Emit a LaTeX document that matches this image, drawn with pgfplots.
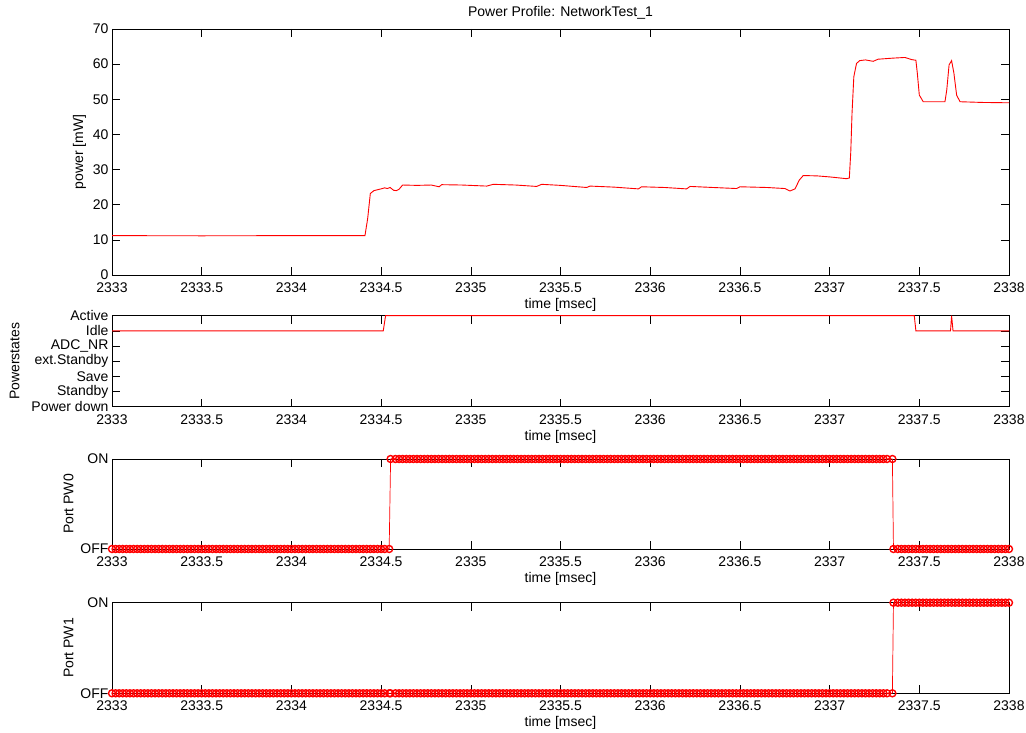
\documentclass[border=0pt]{standalone}
\usepackage{pgfplots}
\pgfplotsset{compat=1.18}
\usepackage{pgfplotstable}
\usepackage{fontspec}
\setmainfont{Liberation Sans}

\pgfplotstableread{
t p
2333.00 11.2
2333.50 11.15
2334.00 11.2
2334.41 11.2
2334.425 16
2334.44 23.2
2334.46 24.0
2334.475 24.2
2334.50 24.5
2334.52 24.8
2334.535 24.6
2334.55 24.9
2334.57 24.1
2334.585 24.0
2334.60 24.4
2334.62 25.6
2334.70 25.5
2334.78 25.6
2334.823 25.1
2334.838 25.7
2334.95 25.6
2335.089 25.3
2335.125 25.8
2335.25 25.6
2335.367 25.2
2335.395 25.8
2335.50 25.5
2335.646 24.9
2335.664 25.3
2335.80 25.0
2335.934 24.5
2335.952 25.1
2336.08 24.9
2336.203 24.5
2336.222 25.2
2336.35 24.9
2336.482 24.6
2336.50 25.1
2336.65 24.9
2336.751 24.6
2336.779 23.9
2336.807 24.5
2336.831 27.0
2336.853 28.3
2336.93 28.2
2337.002 27.9
2337.095 27.4
2337.11 27.6
2337.118 35
2337.125 46
2337.135 56.4
2337.15 60.2
2337.168 61.0
2337.20 61.2
2337.243 60.8
2337.27 61.4
2337.35 61.7
2337.42 61.9
2337.457 61.3
2337.481 61.1
2337.489 57.4
2337.50 51.2
2337.522 49.3
2337.60 49.3
2337.643 49.3
2337.653 52.6
2337.666 59.8
2337.68 61.0
2337.693 57.4
2337.708 51.2
2337.727 49.3
2337.85 49.1
2338.00 49.0
}\powerdata

\pgfplotstableread{
t s
2333.000 5
2334.512 5
2334.525 6
2337.472 6
2337.481 5
2337.674 5
2337.680 6
2337.688 5
2338.000 5
}\statedata

\pgfplotstableread[row sep=\\]{
t a b\\
2333.00 0 0\\ 2333.02 0 0\\ 2333.04 0 0\\ 2333.06 0 0\\ 2333.08 0 0\\ 2333.10 0 0\\ 2333.12 0 0\\ 2333.14 0 0\\ 2333.16 0 0\\ 2333.18 0 0\\
2333.20 0 0\\ 2333.22 0 0\\ 2333.24 0 0\\ 2333.26 0 0\\ 2333.28 0 0\\ 2333.30 0 0\\ 2333.32 0 0\\ 2333.34 0 0\\ 2333.36 0 0\\ 2333.38 0 0\\
2333.40 0 0\\ 2333.42 0 0\\ 2333.44 0 0\\ 2333.46 0 0\\ 2333.48 0 0\\ 2333.50 0 0\\ 2333.52 0 0\\ 2333.54 0 0\\ 2333.56 0 0\\ 2333.58 0 0\\
2333.60 0 0\\ 2333.62 0 0\\ 2333.64 0 0\\ 2333.66 0 0\\ 2333.68 0 0\\ 2333.70 0 0\\ 2333.72 0 0\\ 2333.74 0 0\\ 2333.76 0 0\\ 2333.78 0 0\\
2333.80 0 0\\ 2333.82 0 0\\ 2333.84 0 0\\ 2333.86 0 0\\ 2333.88 0 0\\ 2333.90 0 0\\ 2333.92 0 0\\ 2333.94 0 0\\ 2333.96 0 0\\ 2333.98 0 0\\
2334.00 0 0\\ 2334.02 0 0\\ 2334.04 0 0\\ 2334.06 0 0\\ 2334.08 0 0\\ 2334.10 0 0\\ 2334.12 0 0\\ 2334.14 0 0\\ 2334.16 0 0\\ 2334.18 0 0\\
2334.20 0 0\\ 2334.22 0 0\\ 2334.24 0 0\\ 2334.26 0 0\\ 2334.28 0 0\\ 2334.30 0 0\\ 2334.32 0 0\\ 2334.34 0 0\\ 2334.36 0 0\\ 2334.38 0 0\\
2334.40 0 0\\ 2334.42 0 0\\ 2334.44 0 0\\ 2334.46 0 0\\ 2334.48 0 0\\ 2334.50 0 0\\ 2334.52 0 0\\ 2334.545 0 0\\ 2334.553 1 0\\ 2334.58 1 0\\
2334.60 1 0\\ 2334.62 1 0\\ 2334.64 1 0\\ 2334.66 1 0\\ 2334.68 1 0\\ 2334.70 1 0\\ 2334.72 1 0\\ 2334.74 1 0\\ 2334.76 1 0\\ 2334.78 1 0\\
2334.80 1 0\\ 2334.82 1 0\\ 2334.84 1 0\\ 2334.86 1 0\\ 2334.88 1 0\\ 2334.90 1 0\\ 2334.92 1 0\\ 2334.94 1 0\\ 2334.96 1 0\\ 2334.98 1 0\\
2335.00 1 0\\ 2335.02 1 0\\ 2335.04 1 0\\ 2335.06 1 0\\ 2335.08 1 0\\ 2335.10 1 0\\ 2335.12 1 0\\ 2335.14 1 0\\ 2335.16 1 0\\ 2335.18 1 0\\
2335.20 1 0\\ 2335.22 1 0\\ 2335.24 1 0\\ 2335.26 1 0\\ 2335.28 1 0\\ 2335.30 1 0\\ 2335.32 1 0\\ 2335.34 1 0\\ 2335.36 1 0\\ 2335.38 1 0\\
2335.40 1 0\\ 2335.42 1 0\\ 2335.44 1 0\\ 2335.46 1 0\\ 2335.48 1 0\\ 2335.50 1 0\\ 2335.52 1 0\\ 2335.54 1 0\\ 2335.56 1 0\\ 2335.58 1 0\\
2335.60 1 0\\ 2335.62 1 0\\ 2335.64 1 0\\ 2335.66 1 0\\ 2335.68 1 0\\ 2335.70 1 0\\ 2335.72 1 0\\ 2335.74 1 0\\ 2335.76 1 0\\ 2335.78 1 0\\
2335.80 1 0\\ 2335.82 1 0\\ 2335.84 1 0\\ 2335.86 1 0\\ 2335.88 1 0\\ 2335.90 1 0\\ 2335.92 1 0\\ 2335.94 1 0\\ 2335.96 1 0\\ 2335.98 1 0\\
2336.00 1 0\\ 2336.02 1 0\\ 2336.04 1 0\\ 2336.06 1 0\\ 2336.08 1 0\\ 2336.10 1 0\\ 2336.12 1 0\\ 2336.14 1 0\\ 2336.16 1 0\\ 2336.18 1 0\\
2336.20 1 0\\ 2336.22 1 0\\ 2336.24 1 0\\ 2336.26 1 0\\ 2336.28 1 0\\ 2336.30 1 0\\ 2336.32 1 0\\ 2336.34 1 0\\ 2336.36 1 0\\ 2336.38 1 0\\
2336.40 1 0\\ 2336.42 1 0\\ 2336.44 1 0\\ 2336.46 1 0\\ 2336.48 1 0\\ 2336.50 1 0\\ 2336.52 1 0\\ 2336.54 1 0\\ 2336.56 1 0\\ 2336.58 1 0\\
2336.60 1 0\\ 2336.62 1 0\\ 2336.64 1 0\\ 2336.66 1 0\\ 2336.68 1 0\\ 2336.70 1 0\\ 2336.72 1 0\\ 2336.74 1 0\\ 2336.76 1 0\\ 2336.78 1 0\\
2336.80 1 0\\ 2336.82 1 0\\ 2336.84 1 0\\ 2336.86 1 0\\ 2336.88 1 0\\ 2336.90 1 0\\ 2336.92 1 0\\ 2336.94 1 0\\ 2336.96 1 0\\ 2336.98 1 0\\
2337.00 1 0\\ 2337.02 1 0\\ 2337.04 1 0\\ 2337.06 1 0\\ 2337.08 1 0\\ 2337.10 1 0\\ 2337.12 1 0\\ 2337.14 1 0\\ 2337.16 1 0\\ 2337.18 1 0\\
2337.20 1 0\\ 2337.22 1 0\\ 2337.24 1 0\\ 2337.26 1 0\\ 2337.28 1 0\\ 2337.30 1 0\\ 2337.32 1 0\\ 2337.35 1 0\\ 2337.356 0 1\\ 2337.38 0 1\\
2337.40 0 1\\ 2337.42 0 1\\ 2337.44 0 1\\ 2337.46 0 1\\ 2337.48 0 1\\ 2337.50 0 1\\ 2337.52 0 1\\ 2337.54 0 1\\ 2337.56 0 1\\ 2337.58 0 1\\
2337.60 0 1\\ 2337.62 0 1\\ 2337.64 0 1\\ 2337.66 0 1\\ 2337.68 0 1\\ 2337.70 0 1\\ 2337.72 0 1\\ 2337.74 0 1\\ 2337.76 0 1\\ 2337.78 0 1\\
2337.80 0 1\\ 2337.82 0 1\\ 2337.84 0 1\\ 2337.86 0 1\\ 2337.88 0 1\\ 2337.90 0 1\\ 2337.92 0 1\\ 2337.94 0 1\\ 2337.96 0 1\\ 2337.98 0 1\\
2338.00 0 1\\
}\pwdata

\pgfplotsset{
  myax/.style={
    scale only axis, width=897pt, anchor=south west,
    xmin=2333, xmax=2338,
    xtick={2333,2333.5,2334,2334.5,2335,2335.5,2336,2336.5,2337,2337.5,2338},
    xticklabels={2333,2333.5,2334,2334.5,2335,2335.5,2336,2336.5,2337,2337.5,2338},
    tick align=inside, major tick length=8pt, tick pos=both,
    axis line style={line width=0.9pt},
    every tick/.style={black, line width=0.6pt},
    xlabel={time [msec]},
    font=\fontsize{14}{16}\selectfont,
    /pgf/number format/assume math mode=true,
    xticklabel style={yshift=-4pt},
    xlabel style={yshift=1pt},
  },
  pw/.style={red, line width=0.7pt, mark=o, mark size=3.5pt, mark options={line width=1.4pt}},
}

\begin{document}
\begin{tikzpicture}
\useasboundingbox (0,0) rectangle (1026pt,733pt);
\begin{axis}[myax, at={(112pt,458pt)}, height=246pt,
  ymin=0, ymax=70, ytick={0,10,20,30,40,50,60,70},
  ylabel={power [mW]},
  title={Power Profile: NetworkTest\_1}]
\addplot[red, line width=0.9pt] table[x=t, y=p] {\powerdata};
\end{axis}

\begin{axis}[myax, at={(112pt,326.3pt)}, height=91pt, clip=false,
  ymin=0, ymax=6, ytick={0,1,2,3,4,5,6},
  yticklabels={Power down,Standby,Save,ext.Standby,ADC\_NR,Idle,Active},
  ylabel={Powerstates}, ylabel style={yshift=5pt}]
\addplot[red, line width=0.9pt] table[x=t, y=s] {\statedata};
\end{axis}

\begin{axis}[myax, at={(112pt,184pt)}, height=90pt, clip=false,
  ymin=0, ymax=1, ytick={0,1}, yticklabels={OFF,ON},
  ylabel={Port PW0}]
\addplot[pw] table[x=t, y=a] {\pwdata};
\end{axis}

\begin{axis}[myax, at={(112pt,39.7pt)}, height=90.6pt, clip=false,
  ymin=0, ymax=1, ytick={0,1}, yticklabels={OFF,ON},
  ylabel={Port PW1}]
\addplot[pw] table[x=t, y=b] {\pwdata};
\end{axis}
\end{tikzpicture}
\end{document}
